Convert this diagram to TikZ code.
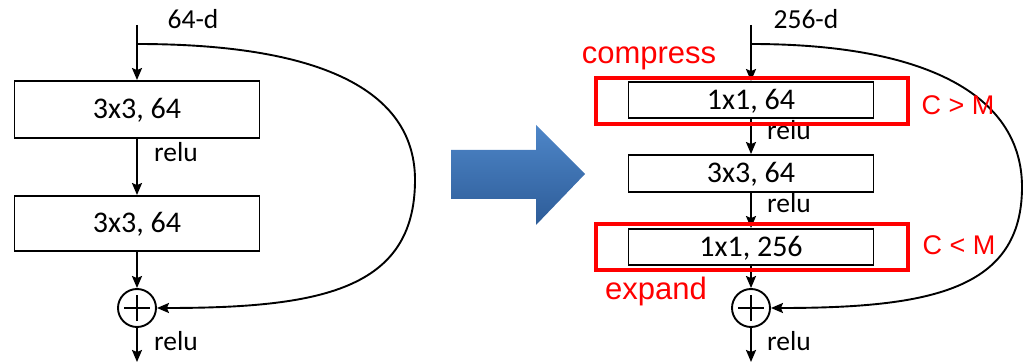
\documentclass[tikz,border=0pt]{standalone}
\usepackage{fontspec}
\setmainfont{Carlito}
\newfontfamily\redfont{Liberation Sans}
\usetikzlibrary{arrows.meta}
\definecolor{arrowtop}{HTML}{4E86C8}
\definecolor{arrowbot}{HTML}{2D5C98}
\begin{document}
\begin{tikzpicture}[x=1pt,y=-1pt,
  conv/.style={draw,line width=1.9pt,minimum width=245pt,inner sep=0pt,
    text height=19pt,text depth=0pt,font=\fontsize{30}{36}\selectfont},
  lbl/.style={inner sep=0pt,font=\fontsize{27.5}{33}\selectfont},
  flow/.style={line width=1.9pt,-{Stealth[length=12pt,width=10pt,inset=2pt]}},
  sum/.style={circle,draw,line width=1.9pt,minimum size=38pt,inner sep=0pt,
    path picture={
      \draw[line width=1.6pt]
        ([xshift=-13pt]path picture bounding box.center) --
        ([xshift=13pt]path picture bounding box.center)
        ([yshift=-13pt]path picture bounding box.center) --
        ([yshift=13pt]path picture bounding box.center);}},
  hl/.style={draw=red,line width=4.5pt,minimum width=312pt,minimum height=46pt,inner sep=0pt},
  note/.style={text=red,inner sep=0pt,font=\redfont\fontsize{31}{36}\selectfont},
  cmp/.style={text=red,inner sep=0pt,font=\redfont\fontsize{27}{32}\selectfont}]
\useasboundingbox (0,0) rectangle (1025,363);

% ---------- basic residual block ----------
\coordinate (inA) at (137,25);
\coordinate (brA) at (137,44);
\coordinate (outA) at (137,362);
\node[lbl,anchor=base] (dimA) at (193,29) {64-d};
\node[conv,minimum height=57pt] (a1) at (137,109.5) {3x3, 64};
\node[conv,minimum height=55pt] (a2) at (137,223.5) {3x3, 64};
\node[sum] (sA) at (137,308) {};
\node[lbl,anchor=base west] (rA1) at (154,162) {relu};
\node[lbl,anchor=base west] (rA2) at (154,350) {relu};

\draw[flow] (inA) -- (a1.north);
\draw[flow] (a1.south) -- (a2.north);
\draw[flow] (a2.south) -- (sA.north);
\draw[flow] (sA.south) -- (outA);
\draw[flow] (brA) .. controls (330,44) and (415,95) .. (415,180)
  .. controls (415,290) and (320,308) .. (sA.east);

% ---------- transition arrow ----------
\shade[top color=arrowtop,bottom color=arrowbot]
  (451,150) -- (536,150) -- (536,125) -- (585,174) -- (536,225)
  -- (536,199) -- (451,199) -- cycle;

% ---------- bottleneck block ----------
\coordinate (inB) at (751,25);
\coordinate (brB) at (751,44);
\coordinate (outB) at (751,362);
\node[lbl,anchor=base] (dimB) at (806,29) {256-d};
\node[conv,minimum height=36pt] (b1) at (751,100) {1x1, 64};
\node[conv,minimum height=37pt] (b2) at (751,173.5) {3x3, 64};
\node[conv,minimum height=36pt] (b3) at (751,247) {1x1, 256};
\node[sum] (sB) at (751,308) {};
\node[lbl,anchor=base west] (rB1) at (767,140) {relu};
\node[lbl,anchor=base west] (rB2) at (767,213) {relu};
\node[lbl,anchor=base west] (rB3) at (767,350) {relu};

\draw[flow] (inB) -- (b1.north);
\draw[flow] (b1.south) -- (b2.north);
\draw[flow] (b2.south) -- (b3.north);
\draw[flow] (b3.south) -- (sB.north);
\draw[flow] (sB.south) -- (outB);
\draw[flow] (brB) .. controls (935,44) and (1022,100) .. (1022,187)
  .. controls (1022,290) and (930,308) .. (sB.east);

% ---------- highlights ----------
\node[hl] (h1) at (752,101) {};
\node[hl] (h2) at (752,247) {};
\node[note,anchor=base] (tc) at (649,64) {compress};
\node[note,anchor=base] (te) at (656,299) {expand};
\node[cmp,anchor=base] (g1) at (958,115) {C > M};
\node[cmp,anchor=base] (g2) at (959,255) {C < M};
\end{tikzpicture}
\end{document}
